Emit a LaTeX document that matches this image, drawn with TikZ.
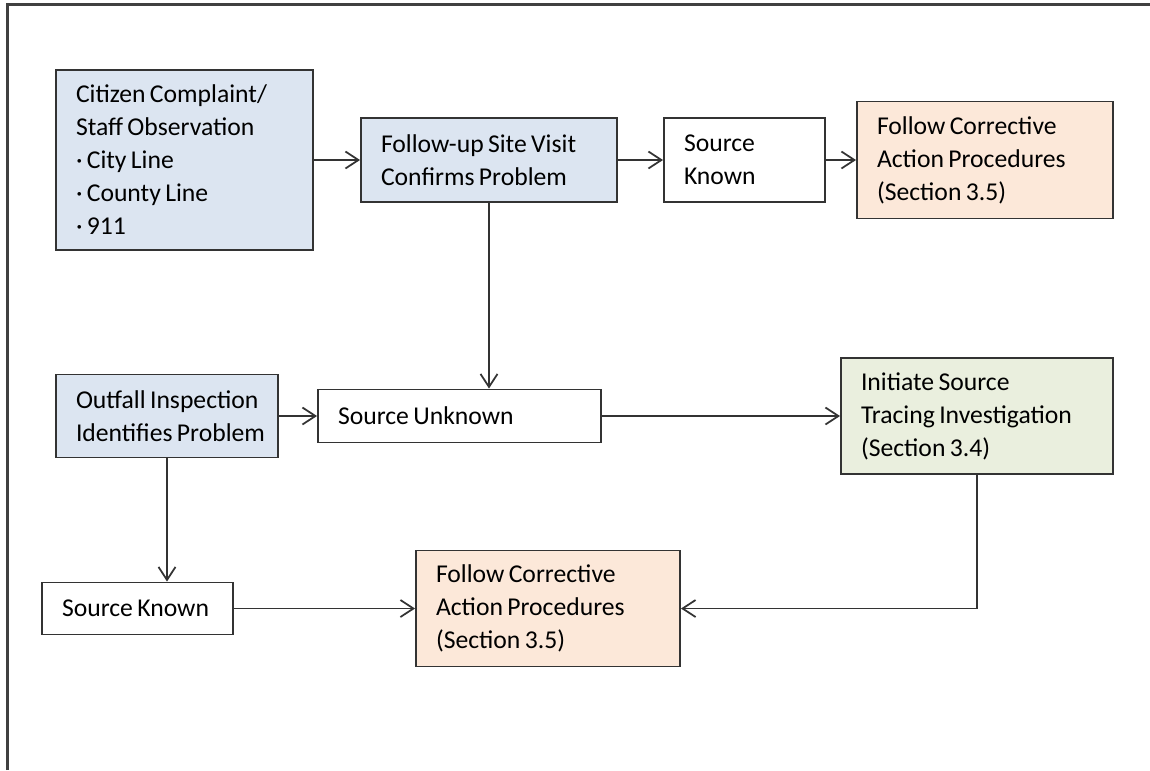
\documentclass[tikz,border=0pt]{standalone}
\usepackage{fontspec}
\setmainfont{Carlito}
\usetikzlibrary{arrows.meta}

\definecolor{boxblue}{RGB}{220,229,241}
\definecolor{boxpeach}{RGB}{252,232,217}
\definecolor{boxgreen}{RGB}{234,239,222}

\tikzset{
  stepnode/.style={draw=black!80, line width=1.1pt, rectangle,
    inner xsep=0.2cm, inner ysep=0pt, font=\fontsize{14.6}{18.8}\selectfont,
    execute at begin node={\raggedright\leftskip=0.2cm\relax
      \hyphenpenalty=10000\spaceskip=0.17em plus 0.05em\relax}},
  bluebox/.style={stepnode, fill=boxblue},
  peachbox/.style={stepnode, fill=boxpeach},
  greenbox/.style={stepnode, fill=boxgreen},
  plainbox/.style={stepnode, fill=white},
  flow/.style={draw=black!80, line width=1pt, -{Straight Barb[length=0.26cm,width=0.34cm]}}
}

\begin{document}
\begin{tikzpicture}
    \useasboundingbox (0,0) rectangle (23,-15.4);
    % Page frame (top and left only)
    \draw[black!75, line width=1.2pt] (0.15,-15.4) -- (0.15,-0.09) -- (23,-0.09);

    % Top row
    \node[bluebox, text width=4.74cm, minimum height=3.6cm] (cit) at (3.69,-3.2)
        {Citizen Complaint/\\Staff Observation\\· City Line\\· County Line\\· 911};
    \node[bluebox, text width=4.72cm, minimum height=1.68cm] (visit) at (9.78,-3.2)
        {Follow-up Site Visit\\Confirms Problem};
    \node[plainbox, text width=2.82cm, minimum height=1.68cm] (knownA) at (14.89,-3.2)
        {Source\\Known};
    \node[peachbox, text width=4.72cm, minimum height=2.34cm] (actA) at (19.7,-3.2)
        {Follow Corrective\\Action Procedures\\(Section 3.5)};

    % Middle row
    \node[bluebox, text width=4.04cm, minimum height=1.66cm] (outfall) at (3.34,-8.32)
        {Outfall Inspection\\Identifies Problem};
    \node[plainbox, text width=5.26cm, minimum height=1.06cm] (unknown) at (9.19,-8.32)
        {Source Unknown};
    \node[greenbox, text width=5.04cm, minimum height=2.32cm] (trace) at (19.54,-8.32)
        {Initiate Source\\Tracing Investigation\\(Section 3.4)};

    % Bottom row
    \node[plainbox, text width=3.42cm, minimum height=1.04cm] (knownB) at (2.75,-12.17)
        {Source Known};
    \node[peachbox, text width=4.88cm, minimum height=2.32cm] (actB) at (10.96,-12.17)
        {Follow Corrective\\Action Procedures\\(Section 3.5)};

    % Connectors
    \draw[flow] (cit) -- (visit);
    \draw[flow] (visit) -- (knownA);
    \draw[flow] (knownA) -- (actA);
    \draw[flow] (visit.south) -- (visit.south |- unknown.north);
    \draw[flow] (outfall) -- (unknown);
    \draw[flow] (unknown) -- (trace);
    \draw[flow] (outfall.south) -- (outfall.south |- knownB.north);
    \draw[flow] (knownB) -- (actB);
    \draw[flow] (trace.south) |- (actB.east);
\end{tikzpicture}
\end{document}
